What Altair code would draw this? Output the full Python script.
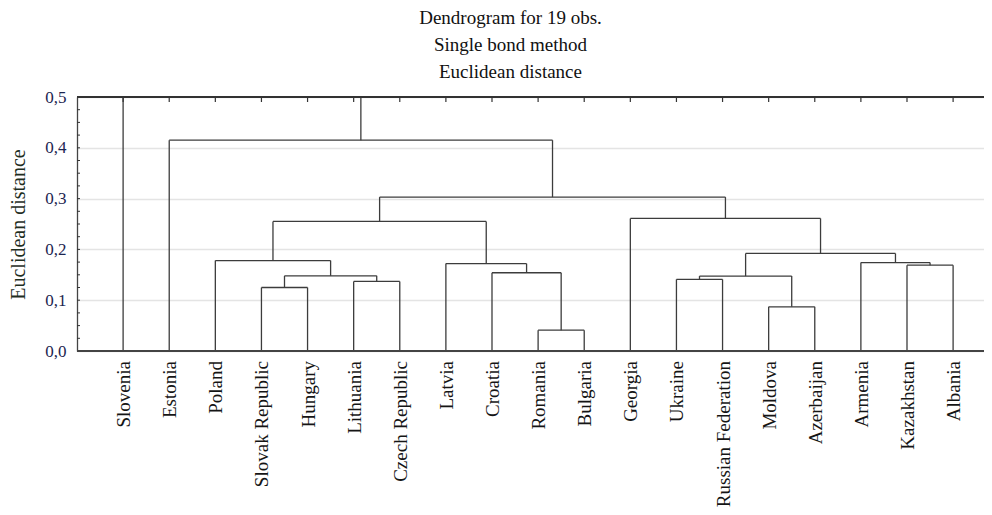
import altair as alt
import pandas as pd

# ---- data ----
leaves = ["Slovenia", "Estonia", "Poland", "Slovak Republic", "Hungary", "Lithuania",
          "Czech Republic", "Latvia", "Croatia", "Romania", "Bulgaria", "Georgia",
          "Ukraine", "Russian Federation", "Moldova", "Azerbaijan", "Armenia",
          "Kazakhstan", "Albania"]

merge_left = ["Romania", "Moldova", "Slovak Republic", "Lithuania", "Ukraine", "C4", "C2",
              "Croatia", "Kazakhstan", "Latvia", "Armenia", "Poland", "C5", "C11",
              "Georgia", "C13", "Estonia", "Slovenia"]
merge_right = ["Bulgaria", "Azerbaijan", "Hungary", "Czech Republic", "Russian Federation",
               "C1", "C3", "C0", "Albania", "C7", "C8", "C6", "C10", "C9",
               "C12", "C14", "C15", "C16"]
merge_height = [0.041, 0.087, 0.125, 0.137, 0.141, 0.1475, 0.148, 0.154, 0.169, 0.172,
                0.174, 0.178, 0.192, 0.255, 0.261, 0.303, 0.415, 0.5]

y_tick_values = [0.0, 0.1, 0.2, 0.3, 0.4, 0.5]
y_minor_ticks = [i * 0.025 for i in range(21)]

title_lines = ["Dendrogram for 19 obs.", "Single bond method", "Euclidean distance"]
y_title = "Euclidean distance"

# ---- build segments ----
pos = {name: float(i) for i, name in enumerate(leaves)}
hgt = {name: 0.0 for name in leaves}
segs = []
for k, (l, r, h) in enumerate(zip(merge_left, merge_right, merge_height)):
    xl, xr = pos[l], pos[r]
    segs.append(dict(x=xl, y=hgt[l], x2=xl, y2=h))
    segs.append(dict(x=xr, y=hgt[r], x2=xr, y2=h))
    segs.append(dict(x=xl, y=h, x2=xr, y2=h))
    cid = f"C{k}"
    pos[cid] = (xl + xr) / 2
    hgt[cid] = h
seg_df = pd.DataFrame(segs)
leaf_df = pd.DataFrame({"i": list(range(len(leaves))), "name": leaves})
ytick_df = pd.DataFrame({"y": y_minor_ticks})

W, H = 907, 254
FONT = "Liberation Serif"
xscale = alt.Scale(domain=[-1, 18.67], nice=False, zero=False)
yscale = alt.Scale(domain=[0, 0.5], nice=False, zero=True)

y_axis = alt.Axis(
    values=y_tick_values,
    labelExpr="replace(format(datum.value, '.1f'), '.', ',')",
    labelFont=FONT, labelFontSize=17, labelColor="#1c2550", labelPadding=11,
    ticks=False, domain=True, domainColor="#444444", domainWidth=1.3,
    grid=True, gridColor="#e4e4e4", gridWidth=1.5,
    title=y_title, titleFont=FONT, titleFontSize=20, titleFontWeight="normal",
    titleColor="#1f2e1f", titleX=-59, titleY=H / 2, titleAngle=270,
    titleAlign="center", titleBaseline="middle")

lines = alt.Chart(seg_df).mark_rule(color="#3c3c3c", strokeWidth=1.3).encode(
    x=alt.X("x:Q", scale=xscale, axis=None),
    x2="x2:Q",
    y=alt.Y("y:Q", scale=yscale, axis=y_axis),
    y2="y2:Q",
)

left_ticks = alt.Chart(ytick_df).mark_rule(color="#333333", strokeWidth=1).encode(
    y=alt.Y("y:Q", scale=yscale, axis=y_axis), x=alt.value(0), x2=alt.value(3))

frame_top = alt.Chart(leaf_df).mark_rule(color="#333333", strokeWidth=1.6).encode(
    x=alt.value(0), x2=alt.value(W), y=alt.value(0))
frame_bottom = alt.Chart(leaf_df).mark_rule(color="#444444", strokeWidth=1.3).encode(
    x=alt.value(0), x2=alt.value(W), y=alt.value(H))

top_ticks = alt.Chart(leaf_df).mark_rule(color="#333333", strokeWidth=1.2).encode(
    x=alt.X("i:Q", scale=xscale, axis=None), y=alt.value(0), y2=alt.value(5))

labels = alt.Chart(leaf_df).mark_text(
    angle=270, align="right", baseline="middle", font=FONT, fontSize=19,
    color="#151515", dy=1).encode(
    x=alt.X("i:Q", scale=xscale, axis=None),
    y=alt.value(H + 10),
    text="name:N",
)

chart = alt.layer(lines, left_ticks, top_ticks, frame_bottom, frame_top, labels).properties(
    width=W, height=H,
    title=alt.TitleParams(text=title_lines, font=FONT, fontSize=19, fontWeight="normal",
                          lineHeight=27, anchor="middle", dx=-20, offset=6, color="#111111"),
    autosize=alt.AutoSizeParams(type="none"),
    padding={"left": 69, "top": 89, "right": 0, "bottom": 156},
).configure_view(stroke=None).configure(background="white")

chart.save("out.html", embed_options={"renderer": "svg", "actions": False})
